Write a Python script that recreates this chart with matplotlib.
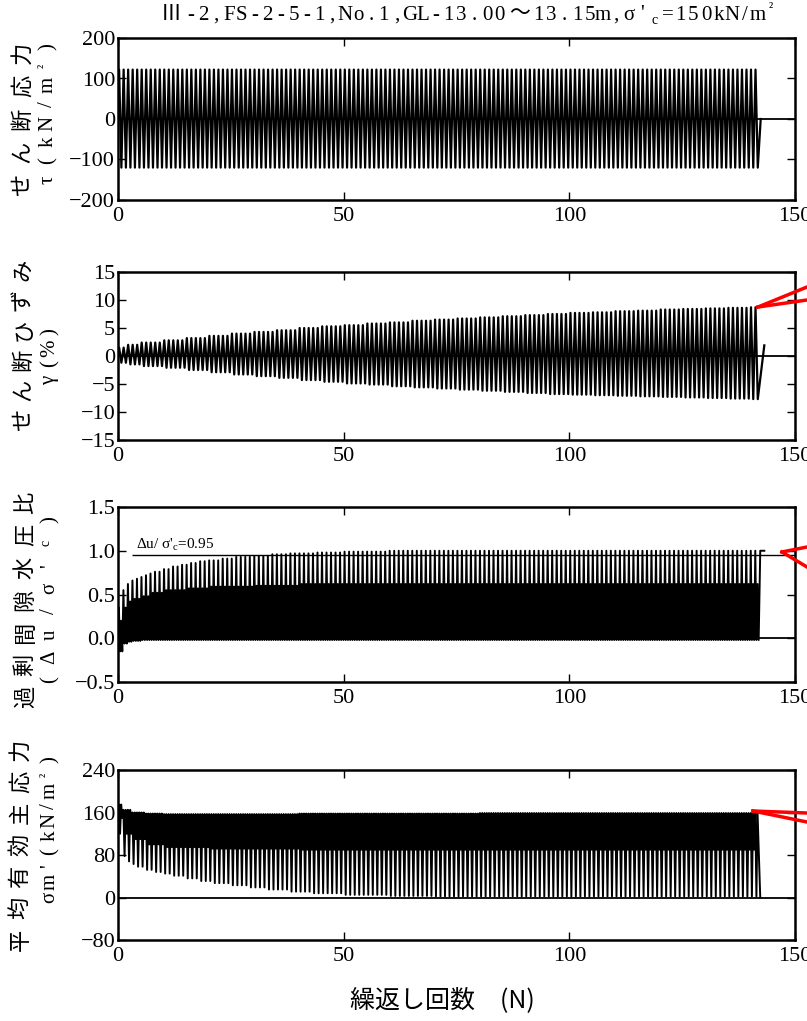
import matplotlib
matplotlib.use("Agg")
import matplotlib.pyplot as plt
import numpy as np
from matplotlib.lines import Line2D

# number of loading cycles before the end of the test
n_cyc = 142

# shear stress tau (kN/m2): peak values, same every cycle
tau_hi = 122
tau_lo = -120

# shear strain gamma (%): envelope read at checkpoint cycles
gam_cp = [0, 2, 5, 10, 15, 20, 25, 30, 35, 40, 45, 50, 55, 60, 65, 70, 75, 80,
          85, 90, 95, 100, 105, 110, 115, 120, 125, 130, 135, 140]
gam_hi = [1.5, 2.0, 2.4, 2.8, 3.2, 3.6, 4.0, 4.3, 4.6, 5.0, 5.3, 5.5, 5.8, 6.0,
          6.3, 6.5, 6.7, 6.9, 7.1, 7.3, 7.5, 7.7, 7.8, 8.0, 8.1, 8.3, 8.4, 8.5,
          8.6, 8.7]
gam_lo = [-1.2, -1.5, -1.8, -2.1, -2.5, -2.9, -3.3, -3.6, -3.9, -4.3, -4.6,
          -4.9, -5.1, -5.4, -5.6, -5.8, -6.0, -6.2, -6.4, -6.6, -6.8, -6.9,
          -7.0, -7.1, -7.2, -7.3, -7.4, -7.5, -7.6, -7.7]
gam_last = 1.9

# excess pore water pressure ratio du/s'c
ru_cp = [0, 1, 2, 3, 4, 5, 6, 7, 8, 10, 12, 14, 16, 18, 20, 23, 26, 30, 34,
         38, 44, 50, 60]
ru_hi = [0.35, 0.55, 0.62, 0.66, 0.68, 0.70, 0.72, 0.74, 0.76, 0.79, 0.82,
         0.84, 0.86, 0.88, 0.89, 0.91, 0.93, 0.94, 0.96, 0.97, 0.98, 0.99, 1.00]
ru_cp2 = [0, 1, 2, 3, 5, 7, 10, 15, 20, 30, 40]
ru_mid = [0.20, 0.35, 0.42, 0.45, 0.48, 0.52, 0.55, 0.57, 0.59, 0.60, 0.62]
ru_lo = [-0.15, -0.06, -0.04, -0.03, -0.02, -0.02, -0.02, -0.02, -0.02,
         -0.02, -0.02]
ru_ref = 0.95

# mean effective principal stress s'm (kN/m2)
pm_start = 150
pm_cp = [0, 1, 2, 3, 4, 6, 8, 10, 12, 15, 18, 21, 25, 29, 33, 38, 43, 50, 60,
         70]
pm_lo = [120, 78, 68, 63, 58, 52, 48, 45, 41, 36, 31, 27, 23, 19, 15, 11, 8,
         5, 3, 2]
pm_cp2 = [0, 1, 3, 6, 10, 20, 40, 80]
pm_hi = [175, 165, 160, 158, 157, 157, 158, 159]
pm_mid = [150, 120, 110, 100, 95, 92, 90, 90]

# title, written in a fixed pitch like the original (2 = full width cell)
title_chars = ["Ⅲ", "-", "2", ",", "F", "S", "-", "2", "-", "5", "-", "1", ",",
               "N", "o", ".", "1", ",", "G", "L", "-", "1", "3", ".", "0", "0",
               "〜", "1", "3", ".", "1", "5", "m", ",", "σ", "'", "c", "=",
               "1", "5", "0", "k", "N", "/", "m", "²"]
title_cells = {"Ⅲ": 2, "〜": 2}
title_small = {"c", "²"}
xlabel = "繰返し回数　(N)"
xticks = [0, 50, 100, 150]
ylims = [(-200, 200), (-15, 15), (-0.5, 1.5), (-80, 240)]
yticks = [[-200, -100, 0, 100, 200],
          [-15, -10, -5, 0, 5, 10, 15],
          [-0.5, 0.0, 0.5, 1.0, 1.5],
          [-80, 0, 80, 160, 240]]
ylab_outer = ["せん断応力", "せん断ひずみ", "過剰間隙水圧比", "平均有効主応力"]
ylab_inner = [["τ", "(", "k", "N", "/", "m", "²", ")"],
              ["γ", "(", "%", ")"],
              ["(", "Δ", "u", "/", "σ", "'", "c", ")"],
              ["σ", "m", "'", "(", "k", "N", "/", "m", "²", ")"]]

plt.rcParams['mathtext.fontset'] = 'custom'
plt.rcParams['mathtext.rm'] = 'Liberation Serif'
plt.rcParams['mathtext.it'] = 'Liberation Serif:italic'
serif = ['Liberation Serif', 'Noto Sans CJK JP']
jp = ['Noto Sans CJK JP', 'DejaVu Sans']

W, H = 807, 1021
fig = plt.figure(figsize=(W / 100, H / 100), dpi=100)


def hold(cp, vals, n):
    # value of the last checkpoint at or before cycle n
    idx = np.searchsorted(cp, n, side='right') - 1
    return np.asarray(vals, dtype=float)[idx]


cyc = np.arange(n_cyc)

# build the traces from the peak values
x1 = [0.0]
y1 = [0.0]
for n in cyc:
    x1 += [n + 0.25, n + 0.75]
    y1 += [tau_hi, tau_lo]
x1 += [n_cyc + 0.4]
y1 += [0.0]

x2 = [0.0]
y2 = [0.0]
for n in cyc:
    x2 += [n + 0.25, n + 0.75]
    y2 += [hold(gam_cp, gam_hi, n), hold(gam_cp, gam_lo, n)]
x2 += [n_cyc + 1.2]
y2 += [gam_last]

# pore pressure: one big and one small peak per cycle
x3 = [0.0]
y3 = [0.0]
for n in cyc:
    x3 += [n + 0.2, n + 0.45, n + 0.7, n + 0.95]
    y3 += [hold(ru_cp, ru_hi, n), hold(ru_cp2, ru_lo, n),
           hold(ru_cp2, ru_mid, n), hold(ru_cp2, ru_lo, n)]
x3 += [n_cyc + 0.3, n_cyc + 1.2]
y3 += [1.0, 1.0]

x4 = [0.0]
y4 = [pm_start]
for n in cyc:
    x4 += [n + 0.2, n + 0.45, n + 0.7, n + 0.95]
    y4 += [hold(pm_cp2, pm_hi, n), hold(pm_cp, pm_lo, n),
           hold(pm_cp2, pm_hi, n), hold(pm_cp2, pm_mid, n)]
x4 += [n_cyc + 0.3]
y4 += [0.0]

traces = [(x1, y1, 1.6), (x2, y2, 1.6), (x3, y3, 1.4), (x4, y4, 1.4)]

# axes boxes in pixels: left, top, right, bottom
boxes = [(118, 38, 795, 200), (118, 272, 795, 440),
         (118, 507, 795, 682), (118, 770, 795, 940)]

axes = []
for i, (l, t, r, b) in enumerate(boxes):
    ax = fig.add_axes([l / W, 1 - b / H, (r - l) / W, (b - t) / H])
    xs, ys, lw = traces[i]
    ax.plot(xs, ys, color='black', lw=lw)
    ax.axhline(0, color='black', lw=1.3)
    ax.set_xlim(0, 150)
    ax.set_ylim(*ylims[i])
    ax.set_xticks(xticks)
    ax.set_yticks(yticks[i])
    if i == 2:
        ax.set_yticklabels(["%.1f" % v if v >= 0 else "−%.1f" % -v for v in yticks[i]])
    ax.tick_params(direction='in', length=6, width=1, top=True, right=True,
                   labelsize=16, pad=2)
    ax.tick_params(axis='x', pad=5)
    for lab in ax.get_xticklabels() + ax.get_yticklabels():
        lab.set_fontfamily(serif)
    for sp in ax.spines.values():
        sp.set_linewidth(1.8)
    axes.append(ax)

# reference line and note in the pore pressure panel
ax3 = axes[2]
ax3.hlines(ru_ref, 3, 150, color='black', lw=1.0)
ax3.text(4, ru_ref + 0.03, "Δu/ σ'$_{\\rm c}$=0.95", fontsize=11,
         family=serif, va='bottom', ha='left')


def px(x, y):
    return x / W, 1 - y / H


# vertical y labels, one character at a time
outer_pos = [(22, 185, 53), (23, 420, 270), (25, 697, 503), (20, 940, 750)]
inner_pos = [(48, 180, 47), (50, 380, 332), (50, 680, 520), (50, 897, 760)]
for i in range(4):
    xo, ya, yb = outer_pos[i]
    chars = list(ylab_outer[i])
    for c, yy in zip(chars, np.linspace(ya, yb, len(chars))):
        fig.text(*px(xo, yy), c, rotation=90, ha='center', va='center',
                 fontsize=16, family=jp, rotation_mode='anchor')
    xi, ya, yb = inner_pos[i]
    chars = ylab_inner[i]
    for c, yy in zip(chars, np.linspace(ya, yb, len(chars))):
        small = c in ("²", "c")
        fig.text(*px(xi + (-4 if small else 0), yy), c, rotation=90,
                 ha='center', va='center', fontsize=10 if small else 15,
                 family=serif, rotation_mode='anchor')

# title on a fixed pitch grid
pitch = 12.9
xc = 158.0
for c in title_chars:
    w = title_cells.get(c, 1)
    small = c in title_small
    yy = 20 if c == "c" else (9 if c == "²" else 15)
    fig.text(*px(xc + w * pitch / 2, yy), c, ha='center', va='center',
             fontsize=10 if small else 15, family=serif)
    xc += w * pitch

fig.text(*px(442, 1000), xlabel, ha='center', va='center', fontsize=18,
         family=jp)

# red pointers at the end of the records
pointers = [((758, 307), (807, 287), (807, 300)),
            ((782, 552), (807, 547), (807, 567)),
            ((753, 811), (807, 813), (807, 822))]
for tip, p1, p2 in pointers:
    for p in (p1, p2):
        a = px(*tip)
        b = px(*p)
        fig.add_artist(Line2D([a[0], b[0]], [a[1], b[1]], color='red',
                              lw=2.5, transform=fig.transFigure))

fig.savefig("out.png", dpi=100)
